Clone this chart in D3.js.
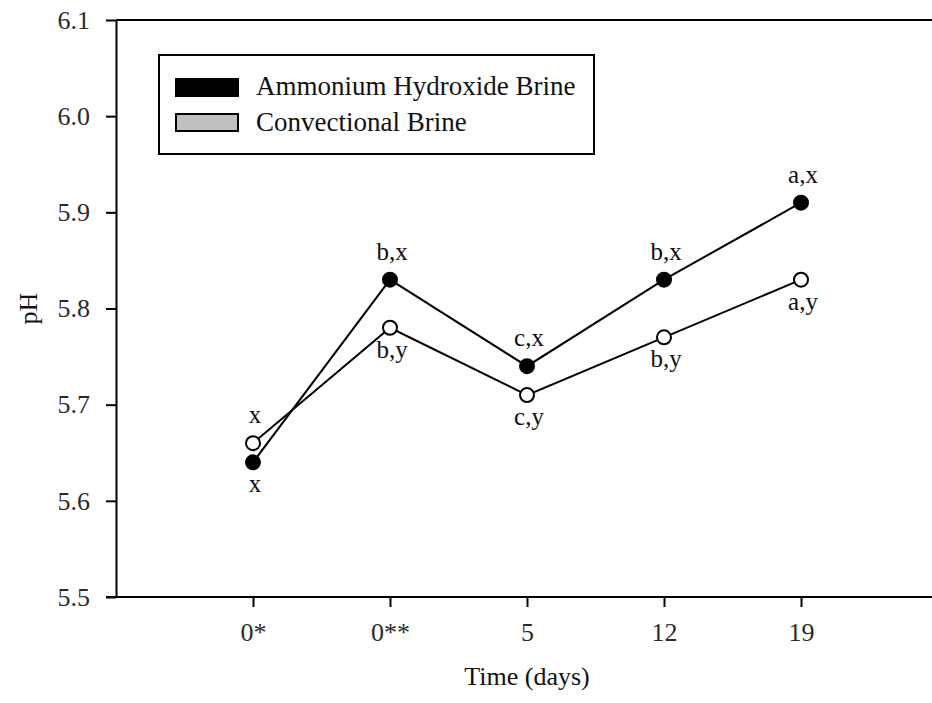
<!DOCTYPE html>
<html>
<head>
<meta charset="utf-8">
<script src="https://cdn.jsdelivr.net/npm/d3@7"></script>
<style>
  html, body { margin: 0; padding: 0; background: #fff; }
  svg { display: block; font-family: "Liberation Serif", "Times New Roman", serif; }
</style>
</head>
<body>
<svg id="chart" width="932" height="703"></svg>
<script>
// Time points (x categories)
const timeLabels = ['0*', '0**', '5', '12', '19'];
// pH values per series
const ammoniumPH = [5.64, 5.83, 5.74, 5.83, 5.91];
const conventionalPH = [5.66, 5.78, 5.71, 5.77, 5.83];
// significance letters per point
const ammoniumLetters = ['x', 'b,x', 'c,x', 'b,x', 'a,x'];
const conventionalLetters = ['x', 'b,y', 'c,y', 'b,y', 'a,y'];
const yTicks = [5.5, 5.6, 5.7, 5.8, 5.9, 6.0, 6.1];

const svg = d3.select('#chart');
const plotLeft = 116, plotTop = 20, plotBottom = 597, plotRight = 938;

// x uses category index; one empty slot on each side like the original
const x = d3.scaleLinear().domain([-1, timeLabels.length]).range([plotLeft, plotRight]);
const y = d3.scaleLinear().domain([5.5, 6.1]).range([plotBottom, plotTop]);

// Top frame line
svg.append('line')
  .attr('x1', plotLeft).attr('x2', 932)
  .attr('y1', y(6.1)).attr('y2', y(6.1))
  .attr('stroke', '#000').attr('stroke-width', 2);

// Y axis
const yAxis = svg.append('g')
  .attr('transform', `translate(${plotLeft},0)`)
  .call(d3.axisLeft(y).tickValues(yTicks).tickFormat(d3.format('.1f')).tickSize(10).tickPadding(16).tickSizeOuter(0));

// X axis
const xAxis = svg.append('g')
  .attr('transform', `translate(0,${plotBottom})`)
  .call(d3.axisBottom(x).tickValues(d3.range(timeLabels.length)).tickFormat(i => timeLabels[i]).tickSize(10).tickPadding(16).tickSizeOuter(0));

[yAxis, xAxis].forEach(ax => {
  ax.select('.domain').attr('stroke-width', 2);
  ax.selectAll('.tick line').attr('stroke-width', 2);
  ax.selectAll('.tick text').attr('font-size', 26).attr('fill', '#2a2a2a').attr('font-family', 'Liberation Serif, serif');
});
xAxis.select('.domain').attr('d', `M${plotLeft - 10},0H932`);

// Axis titles
svg.append('text')
  .attr('x', x(2)).attr('y', 685)
  .attr('text-anchor', 'middle')
  .attr('font-size', 26).attr('fill', '#111')
  .text('Time (days)');
svg.append('text')
  .attr('transform', `translate(37,${(plotTop + plotBottom) / 2}) rotate(-90)`)
  .attr('text-anchor', 'middle')
  .attr('font-size', 26).attr('fill', '#111')
  .text('pH');

// Series
const series = [
  { values: ammoniumPH, letters: ammoniumLetters, fill: '#000' },
  { values: conventionalPH, letters: conventionalLetters, fill: '#fff' }
];
const line = d3.line().x((d, i) => x(i)).y(d => y(d));

series.forEach(s => {
  svg.append('path')
    .datum(s.values)
    .attr('d', line)
    .attr('fill', 'none')
    .attr('stroke', '#000')
    .attr('stroke-width', 2);
});

series.forEach((s, si) => {
  const other = series[1 - si];
  svg.selectAll(null)
    .data(s.values)
    .enter().append('circle')
    .attr('cx', (d, i) => x(i))
    .attr('cy', d => y(d))
    .attr('r', 7)
    .attr('fill', s.fill)
    .attr('stroke', '#000')
    .attr('stroke-width', 2);

  // letters: above the higher point, below the lower one
  svg.selectAll(null)
    .data(s.values)
    .enter().append('text')
    .attr('x', (d, i) => x(i) + 2)
    .attr('y', (d, i) => d >= other.values[i] ? y(d) - 20 : y(d) + 30)
    .attr('text-anchor', 'middle')
    .attr('font-size', 25)
    .attr('fill', '#111')
    .text((d, i) => s.letters[i]);
});

// Legend
const legend = svg.append('g');
legend.append('rect')
  .attr('x', 159).attr('y', 55).attr('width', 435).attr('height', 99)
  .attr('fill', '#fff').attr('stroke', '#000').attr('stroke-width', 2);
const legendItems = [
  { name: 'Ammonium Hydroxide Brine', fill: '#000' },
  { name: 'Convectional Brine', fill: '#c0c0c0' }
];
legendItems.forEach((item, i) => {
  legend.append('rect')
    .attr('x', 176).attr('y', 79 + i * 35).attr('width', 62).attr('height', 17)
    .attr('fill', item.fill).attr('stroke', '#000').attr('stroke-width', 2);
  legend.append('text')
    .attr('x', 256).attr('y', 95 + i * 36)
    .attr('font-size', 27).attr('fill', '#111')
    .text(item.name);
});
</script>
</body>
</html>
